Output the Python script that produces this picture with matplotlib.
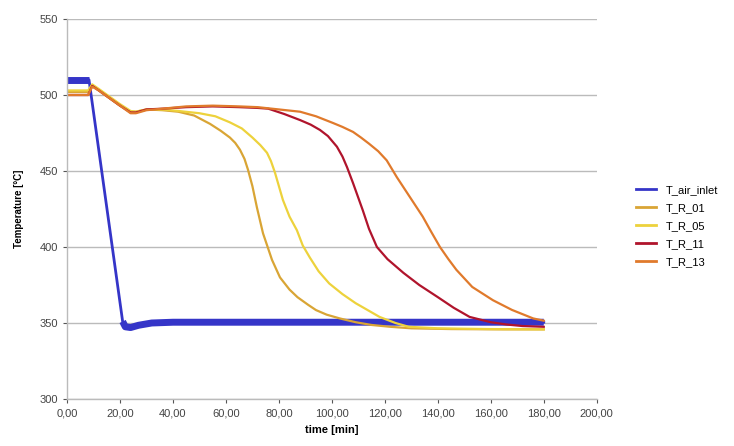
import matplotlib
matplotlib.use("Agg")
import matplotlib.pyplot as plt
from matplotlib.ticker import FuncFormatter

# ---- data ----
t_air = [0, 8.3, 21, 22, 24, 27, 32, 40, 60, 100, 140, 180]
v_air = [510, 510, 351, 347.5, 347, 348.5, 350, 350.5, 350.5, 350.5, 350.5, 350.5]

t_r01 = [0, 8, 9.5, 12, 16, 20, 24, 26, 30, 36, 42, 48, 54, 58, 61.5, 63.5, 65.3, 67, 68.3, 70, 71.7, 74, 77.4,
         80.4, 84, 87, 91, 94, 98, 103, 109, 115, 122, 130, 145, 165, 180]
v_r01 = [502, 502, 506.5, 503, 498, 493, 489, 489, 490.5, 490, 489, 486.5, 481, 476.5, 472, 468.5, 464, 458, 451, 440, 426, 409, 391.5,
         380, 372, 367, 362, 358.5, 355.5, 353, 350.5, 348.7, 347.5, 346.5, 346, 345.8, 345.8]

t_r05 = [0, 8, 9.5, 12, 16, 20, 24, 26, 30, 36, 42, 50, 56, 61.5, 66, 70, 73, 75.5, 77, 78.5, 80, 81.5, 84, 86.8,
         89, 91.7, 95, 99, 104, 109, 114, 118, 124, 129, 140, 160, 180]
v_r05 = [503, 503, 507, 504, 499, 494, 489.5, 489, 490.5, 490.5, 489.5, 488, 486, 482, 478, 472, 467, 462, 456.5, 449, 440, 431, 420, 411,
         401, 393, 384, 376, 369, 363, 358, 354, 350, 347.5, 346.5, 346, 345.8]

t_r11 = [0, 8, 9.5, 12, 16, 20, 24, 26, 30, 36, 45, 55, 65, 72, 76, 82, 88, 92, 95.5, 98.5, 101.9, 104, 105.7, 108, 111.7,
         114, 117, 121, 127, 133, 140, 146, 152, 160, 166, 172, 180]
v_r11 = [500, 500, 506, 503, 498, 493, 488.5, 488.5, 490.5, 491, 492, 492.5, 492, 491.5, 491, 487.5, 483.5, 480.5, 477, 473, 466, 459.5, 452.6, 442, 424,
         412, 400, 392, 383, 375, 367, 360, 354, 350.5, 349, 348, 347.5]

t_r13 = [0, 8, 9.5, 12, 16, 20, 24, 26, 30, 36, 45, 55, 65, 72, 80, 88, 94, 100.4, 104, 108, 111, 114, 117.5, 120.7, 124.5,
         129.4, 134.3, 137.5, 140.8, 144, 147, 153, 160.8, 168, 176, 180]
v_r13 = [500, 500, 505.5, 503, 498, 493, 488, 488, 490, 491, 492.5, 493, 492.5, 492, 490.5, 489, 486, 481.6, 479, 475.7, 472, 468, 463, 457, 446,
         433, 420, 410, 400, 392, 385, 373.7, 365, 358.6, 353, 351.5]

labels = ["T_air_inlet", "T_R_01", "T_R_05", "T_R_11", "T_R_13"]
x_ticks = [0, 20, 40, 60, 80, 100, 120, 140, 160, 180, 200]
y_ticks = [300, 350, 400, 450, 500, 550]

plt.rcParams['font.family'] = ['Liberation Sans', 'DejaVu Sans']

fig = plt.figure(figsize=(7.34, 4.46), dpi=100)
ax = fig.add_axes([0.0913, 0.1054, 0.7217, 0.8520])

blue = "#3535C8"
ax.plot(t_air, v_air, color=blue, lw=2, label=labels[0])
# oscillating plateaus appear as thick bands
ax.plot(t_air[:2], v_air[:2], color=blue, lw=5, solid_capstyle='butt')
ax.plot(t_air[2:], v_air[2:], color=blue, lw=5, solid_capstyle='butt', solid_joinstyle='round')
ax.plot(t_r01, v_r01, color="#D9A535", lw=1.6, label=labels[1])
ax.plot(t_r05, v_r05, color="#EDD23C", lw=1.6, label=labels[2])
ax.plot(t_r11, v_r11, color="#B0142C", lw=1.6, label=labels[3])
ax.plot(t_r13, v_r13, color="#E07A2C", lw=1.6, label=labels[4])

ax.set_xlim(0, 200)
ax.set_ylim(300, 550)
ax.set_xticks(x_ticks)
ax.set_yticks(y_ticks)
ax.xaxis.set_major_formatter(FuncFormatter(lambda v, p: f"{v:.2f}".replace(".", ",")))
ax.yaxis.set_major_formatter(FuncFormatter(lambda v, p: f"{int(v)}"))
ax.tick_params(axis='both', labelsize=8, colors="#555555", length=3, width=0.8, direction='out')
ax.tick_params(axis='both', labelcolor="#444444")

ax.grid(axis='y', color="#BBBBBB", lw=1)
ax.set_axisbelow(True)
for s in ['top', 'right']:
    ax.spines[s].set_visible(False)
for s in ['left', 'bottom']:
    ax.spines[s].set_color("#BBBBBB")
    ax.spines[s].set_linewidth(1)

ax.set_xlabel("time [min]", fontsize=8, fontweight='bold', labelpad=5)
ax.set_ylabel("Temperature [°C]", fontsize=7, fontweight='bold', labelpad=11)

leg = ax.legend(loc='center left', bbox_to_anchor=(1.055, 0.455), frameon=False,
                fontsize=8, handlelength=1.8, handletextpad=0.9, labelspacing=0.72)
for line in leg.get_lines():
    line.set_linewidth(2)

fig.savefig("out.png", dpi=100)
